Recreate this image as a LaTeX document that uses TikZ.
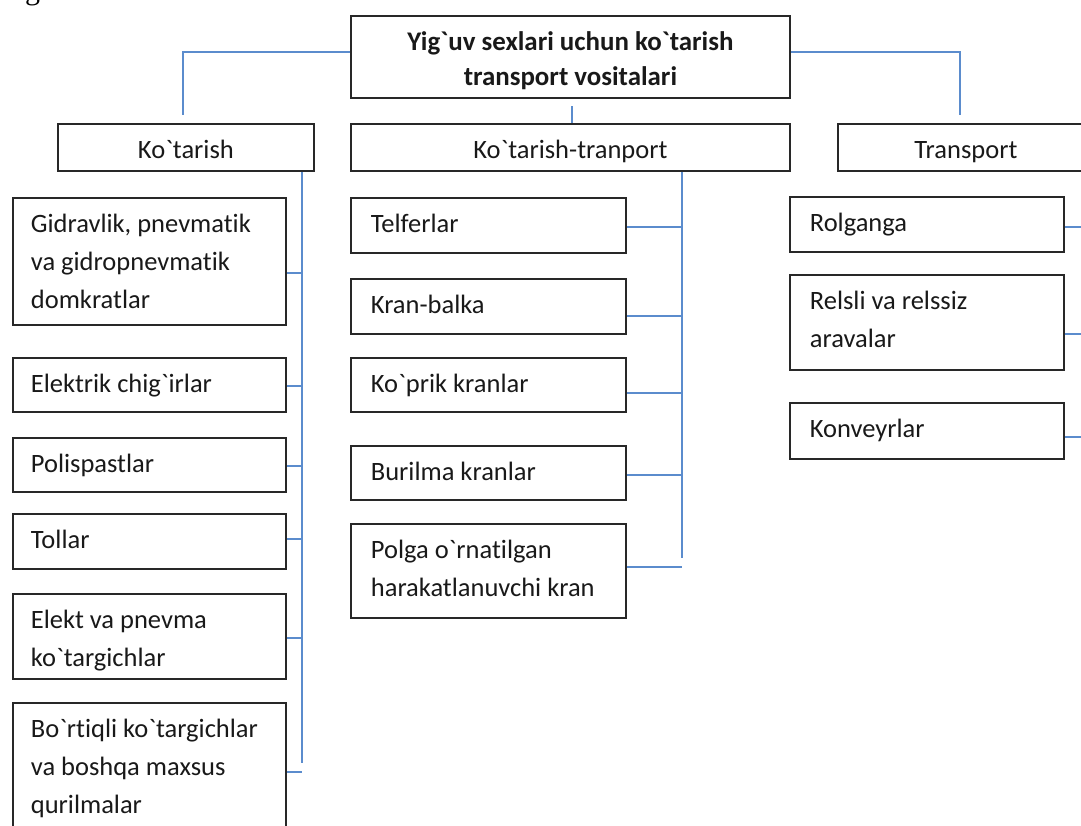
\documentclass[tikz,border=0pt]{standalone}
\usepackage{fontspec}
\setmainfont{Carlito}[Ligatures={TeXOff,NoCommon}]
\newfontfamily\fragfont{Liberation Serif}
\definecolor{connc}{RGB}{91,140,205}
\definecolor{edgec}{RGB}{40,40,40}
\definecolor{inkc}{RGB}{25,25,25}
\newcommand\lbox[3]{\parbox[t][#2][t]{#1}{\raggedright\rule{0pt}{34.5pt}#3}}
\newcommand\cbox[3]{\parbox[t][#2][t]{#1}{\centering\rule{0pt}{35pt}#3}}
\tikzset{
  box/.style={draw=edgec, line width=1.8pt, inner sep=0pt, anchor=north west,
    text=inkc, font=\fontsize{26.5}{38}\selectfont},
  conn/.style={draw=connc, line width=1.3pt}
}
\begin{document}
\begin{tikzpicture}[x=1pt,y=-1pt]
\useasboundingbox (0,0) rectangle (1081,825);
\fill[white] (0,0) rectangle (1081,825);
% fragment of a cut-off caption
\node[anchor=base west, inner sep=0pt, font=\fragfont\fontsize{30}{30}\selectfont] (frag) at (25,-1) {g};
% title
\node[box, font=\bfseries\fontsize{26.9}{35.5}\selectfont] (top) at (350,15)
  {\parbox[t][82pt][t]{439pt}{\centering\rule{0pt}{34.5pt}Yig`uv sexlari uchun ko`tarish\\transport vositalari}};
% level 2
\node[box] (k1) at (57,123) {\cbox{256pt}{47pt}{Ko`tarish}};
\node[box] (k2) at (350,123) {\cbox{439pt}{47pt}{Ko`tarish-tranport}};
\node[box] (k3) at (837,123) {\cbox{256pt}{47pt}{Transport}};
% left column
\node[box] (gid) at (12,197) {\hspace*{18pt}\lbox{255pt}{127pt}{Gidravlik, pnevmatik\\va gidropnevmatik\\domkratlar}};
\node[box] (ele) at (12,357) {\hspace*{18pt}\lbox{255pt}{54pt}{Elektrik chig`irlar}};
\node[box] (pls) at (12,437) {\hspace*{18pt}\lbox{255pt}{54pt}{Polispastlar}};
\node[box] (tol) at (12,513) {\hspace*{18pt}\lbox{255pt}{55pt}{Tollar}};
\node[box] (elk) at (12,593) {\hspace*{18pt}\lbox{255pt}{85pt}{Elekt va pnevma\\ko`targichlar}};
\node[box] (bor) at (12,702) {\hspace*{18pt}\lbox{255pt}{150pt}{Bo`rtiqli ko`targichlar\\va boshqa maxsus\\qurilmalar}};
% middle column
\node[box] (tel) at (350,197) {\hspace*{20pt}\lbox{255pt}{55pt}{Telferlar}};
\node[box] (krb) at (350,278) {\hspace*{20pt}\lbox{255pt}{55pt}{Kran-balka}};
\node[box] (kop) at (350,357) {\hspace*{20pt}\lbox{255pt}{54pt}{Ko`prik kranlar}};
\node[box] (bur) at (350,445) {\hspace*{20pt}\lbox{255pt}{54pt}{Burilma kranlar}};
\node[box] (plg) at (350,523) {\hspace*{20pt}\lbox{255pt}{94pt}{Polga o`rnatilgan\\harakatlanuvchi kran}};
% right column
\node[box] (rol) at (789,196) {\hspace*{20pt}\lbox{254pt}{55pt}{Rolganga}};
\node[box] (rel) at (789,274) {\hspace*{20pt}\lbox{254pt}{95pt}{Relsli va relssiz\\aravalar}};
\node[box] (kon) at (789,402) {\hspace*{20pt}\lbox{254pt}{56pt}{Konveyrlar}};
% connector end points
\coordinate (lend) at (183,115);
\coordinate (mtop) at (572,106);
\coordinate (rend) at (960,115);
\coordinate (lt) at (302,763);
\coordinate (mt) at (682,558);
\coordinate (rt) at (1095,0);
% title connectors
\draw[conn] (top.west |- 0,52) -| (lend);
\draw[conn] (mtop) -- (mtop |- k2.north);
\draw[conn] (top.east |- 0,52) -| (rend);
% left trunk and branches
\draw[conn] (lt |- k1.south) -- (lt);
\draw[conn] (gid.east |- 0,273) -- (lt |- 0,273);
\draw[conn] (ele.east |- 0,386) -- (lt |- 0,386);
\draw[conn] (pls.east |- 0,466) -- (lt |- 0,466);
\draw[conn] (tol.east |- 0,539) -- (lt |- 0,539);
\draw[conn] (elk.east |- 0,638) -- (lt |- 0,638);
\draw[conn] (bor.east |- 0,772) -- (lt |- 0,772);
% middle trunk and branches
\draw[conn] (mt |- k2.south) -- (mt);
\draw[conn] (tel.east |- 0,227) -- (mt |- 0,227);
\draw[conn] (krb.east |- 0,316) -- (mt |- 0,316);
\draw[conn] (kop.east |- 0,393) -- (mt |- 0,393);
\draw[conn] (bur.east |- 0,475) -- (mt |- 0,475);
\draw[conn] (plg.east |- 0,567) -- (mt |- 0,567);
% right branches
\draw[conn] (rol.east |- 0,227) -- (rt |- 0,227);
\draw[conn] (rel.east |- 0,334) -- (rt |- 0,334);
\draw[conn] (kon.east |- 0,437) -- (rt |- 0,437);
\end{tikzpicture}
\end{document}
